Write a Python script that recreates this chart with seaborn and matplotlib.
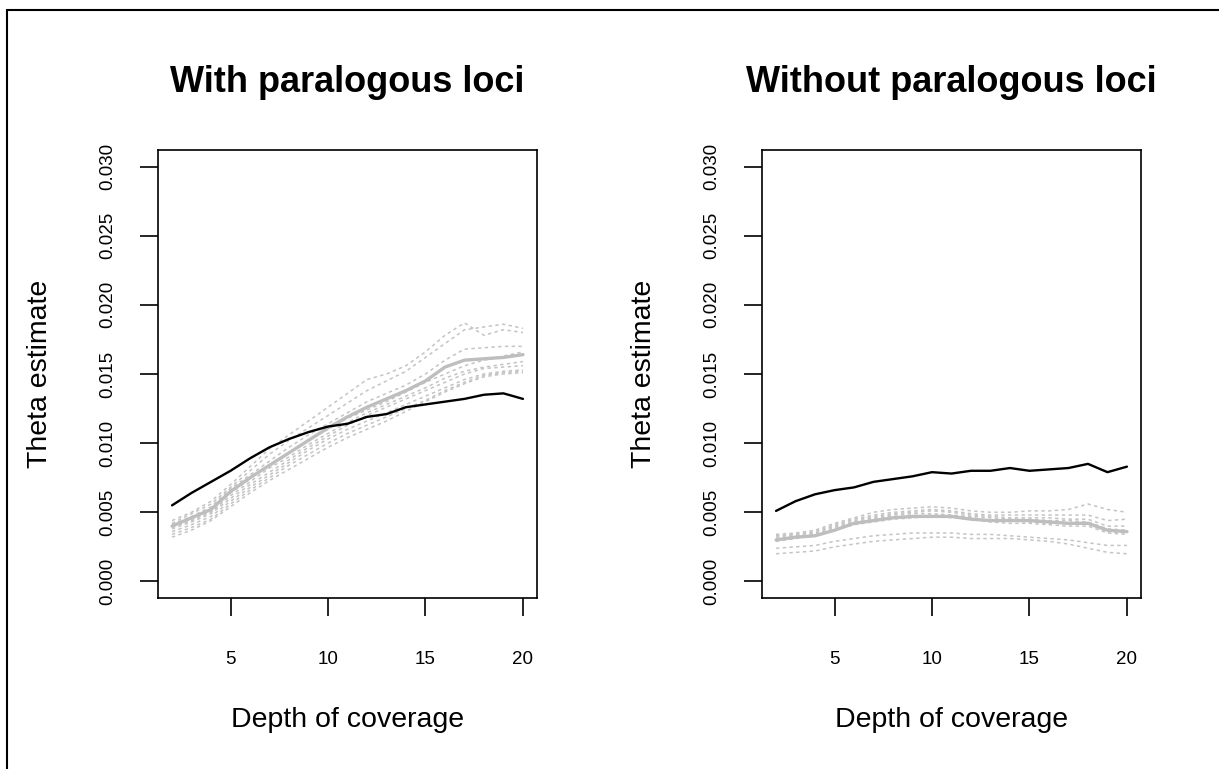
import matplotlib
matplotlib.use("Agg")
import matplotlib.pyplot as plt
import seaborn as sns
import pandas as pd
from matplotlib.lines import Line2D

depth = list(range(2, 21))

# ---- With paralogous loci ----
with_black = [0.0055, 0.0064, 0.0072, 0.0080, 0.0089, 0.0097, 0.0103, 0.0108, 0.0112, 0.0114,
              0.0119, 0.0121, 0.0126, 0.0128, 0.0130, 0.0132, 0.0135, 0.0136, 0.0132]
with_gray = [0.0040, 0.0046, 0.0052, 0.0065, 0.0075, 0.0084, 0.0093, 0.0102, 0.0111, 0.0119,
             0.0126, 0.0132, 0.0138, 0.0145, 0.0155, 0.0160, 0.0161, 0.0162, 0.0164]
with_reps = [
    [0.0044, 0.0050, 0.0058, 0.0070, 0.0083, 0.0096, 0.0106, 0.0116, 0.0126, 0.0136,
     0.0146, 0.0150, 0.0156, 0.0166, 0.0178, 0.0187, 0.0178, 0.0182, 0.0180],
    [0.0042, 0.0049, 0.0056, 0.0068, 0.0080, 0.0092, 0.0102, 0.0111, 0.0120, 0.0129,
     0.0138, 0.0145, 0.0152, 0.0162, 0.0172, 0.0182, 0.0184, 0.0186, 0.0183],
    [0.0041, 0.0047, 0.0054, 0.0067, 0.0077, 0.0087, 0.0097, 0.0106, 0.0114, 0.0122,
     0.0130, 0.0136, 0.0142, 0.0150, 0.0160, 0.0168, 0.0169, 0.0170, 0.0170],
    [0.0040, 0.0045, 0.0051, 0.0064, 0.0074, 0.0084, 0.0093, 0.0102, 0.0110, 0.0118,
     0.0124, 0.0130, 0.0137, 0.0144, 0.0150, 0.0156, 0.0160, 0.0163, 0.0166],
    [0.0039, 0.0044, 0.0050, 0.0062, 0.0072, 0.0082, 0.0090, 0.0099, 0.0107, 0.0115,
     0.0122, 0.0128, 0.0134, 0.0140, 0.0147, 0.0152, 0.0155, 0.0157, 0.0159],
    [0.0038, 0.0043, 0.0049, 0.0060, 0.0070, 0.0079, 0.0088, 0.0097, 0.0105, 0.0113,
     0.0120, 0.0126, 0.0132, 0.0138, 0.0144, 0.0150, 0.0154, 0.0155, 0.0156],
    [0.0036, 0.0041, 0.0047, 0.0058, 0.0068, 0.0077, 0.0086, 0.0095, 0.0103, 0.0110,
     0.0116, 0.0122, 0.0128, 0.0134, 0.0140, 0.0146, 0.0150, 0.0152, 0.0153],
    [0.0034, 0.0039, 0.0045, 0.0056, 0.0066, 0.0075, 0.0084, 0.0092, 0.0100, 0.0107,
     0.0113, 0.0119, 0.0125, 0.0131, 0.0138, 0.0144, 0.0149, 0.0151, 0.0152],
    [0.0032, 0.0037, 0.0044, 0.0054, 0.0064, 0.0073, 0.0081, 0.0089, 0.0097, 0.0104,
     0.0110, 0.0116, 0.0123, 0.0130, 0.0137, 0.0143, 0.0148, 0.0150, 0.0151],
]

# ---- Without paralogous loci ----
without_black = [0.0051, 0.0058, 0.0063, 0.0066, 0.0068, 0.0072, 0.0074, 0.0076, 0.0079, 0.0078,
                 0.0080, 0.0080, 0.0082, 0.0080, 0.0081, 0.0082, 0.0085, 0.0079, 0.0083]
without_gray = [0.0030, 0.0032, 0.0033, 0.0037, 0.0042, 0.0044, 0.0046, 0.0047, 0.0047, 0.0047,
                0.0045, 0.0044, 0.0044, 0.0044, 0.0043, 0.0042, 0.0042, 0.0037, 0.0036]
without_reps = [
    [0.0034, 0.0035, 0.0037, 0.0042, 0.0046, 0.0050, 0.0052, 0.0053, 0.0054, 0.0053,
     0.0051, 0.0050, 0.0050, 0.0051, 0.0051, 0.0052, 0.0056, 0.0052, 0.0050],
    [0.0033, 0.0034, 0.0036, 0.0041, 0.0045, 0.0048, 0.0050, 0.0051, 0.0052, 0.0051,
     0.0049, 0.0048, 0.0048, 0.0048, 0.0048, 0.0048, 0.0048, 0.0044, 0.0045],
    [0.0032, 0.0034, 0.0035, 0.0040, 0.0044, 0.0047, 0.0049, 0.0050, 0.0051, 0.0050,
     0.0048, 0.0047, 0.0046, 0.0046, 0.0046, 0.0045, 0.0045, 0.0040, 0.0040],
    [0.0031, 0.0033, 0.0034, 0.0039, 0.0043, 0.0046, 0.0048, 0.0049, 0.0049, 0.0048,
     0.0047, 0.0046, 0.0045, 0.0045, 0.0044, 0.0044, 0.0043, 0.0038, 0.0037],
    [0.0030, 0.0032, 0.0034, 0.0038, 0.0042, 0.0045, 0.0047, 0.0047, 0.0048, 0.0047,
     0.0046, 0.0044, 0.0044, 0.0043, 0.0042, 0.0042, 0.0042, 0.0036, 0.0035],
    [0.0029, 0.0031, 0.0033, 0.0037, 0.0041, 0.0043, 0.0045, 0.0046, 0.0047, 0.0046,
     0.0045, 0.0043, 0.0042, 0.0042, 0.0041, 0.0040, 0.0040, 0.0035, 0.0034],
    [0.0024, 0.0025, 0.0026, 0.0029, 0.0031, 0.0033, 0.0034, 0.0035, 0.0035, 0.0035,
     0.0034, 0.0034, 0.0033, 0.0032, 0.0031, 0.0030, 0.0028, 0.0026, 0.0026],
    [0.0020, 0.0021, 0.0022, 0.0025, 0.0027, 0.0029, 0.0030, 0.0031, 0.0032, 0.0032,
     0.0031, 0.0031, 0.0031, 0.0030, 0.0029, 0.0027, 0.0024, 0.0021, 0.0020],
]

titles = ["With paralogous loci", "Without paralogous loci"]
x_label = "Depth of coverage"
y_label = "Theta estimate"
y_ticks = [0.000, 0.005, 0.010, 0.015, 0.020, 0.025, 0.030]
x_ticks = [5, 10, 15, 20]

sns.set_theme(style="white")
plt.rcParams["font.family"] = ["Liberation Sans", "DejaVu Sans"]

fig = plt.figure(figsize=(12.19, 7.69), dpi=100)
ax_w, ax_h, ax_b = 379 / 1219, 448 / 769, 1 - 598 / 769
axes = [fig.add_axes([158 / 1219, ax_b, ax_w, ax_h]),
        fig.add_axes([762 / 1219, ax_b, ax_w, ax_h])]

panels = [(with_black, with_gray, with_reps), (without_black, without_gray, without_reps)]

for ax, title, (blk, gry, reps) in zip(axes, titles, panels):
    for rep in reps:
        df = pd.DataFrame({"depth": depth, "theta": rep})
        sns.lineplot(data=df, x="depth", y="theta", ax=ax, color="#c4c4c4",
                     linewidth=1.1, linestyle=(0, (2.2, 2.2)), zorder=2)
    dfg = pd.DataFrame({"depth": depth, "theta": gry})
    sns.lineplot(data=dfg, x="depth", y="theta", ax=ax, color="#bebebe",
                 linewidth=2.4, zorder=3)
    dfb = pd.DataFrame({"depth": depth, "theta": blk})
    sns.lineplot(data=dfb, x="depth", y="theta", ax=ax, color="black",
                 linewidth=1.7, zorder=4)

    ax.set_xlim(1.28, 20.72)
    ax.set_ylim(-0.0012, 0.0312)
    ax.set_xticks(x_ticks)
    ax.set_xticklabels([str(t) for t in x_ticks], fontsize=13.5)
    ax.set_yticks(y_ticks)
    ax.set_yticklabels([f"{t:.3f}" for t in y_ticks], fontsize=13.5,
                       rotation=90, va="center")
    ax.tick_params(axis="both", direction="out", length=13, width=1.2,
                   color="black", bottom=True, left=True, labelcolor="black")
    ax.tick_params(axis="x", pad=25)
    ax.tick_params(axis="y", pad=17)
    for s in ax.spines.values():
        s.set_visible(True)
        s.set_color("black")
        s.set_linewidth(1.2)
    ax.set_xlabel(x_label, fontsize=20.5, labelpad=28, color="black")
    ax.set_ylabel(y_label, fontsize=20.5, labelpad=33, color="black")
    ax.set_title(title, fontsize=26, fontweight="bold", pad=42, color="black")
    ax.set_facecolor("white")

# outer frame (top and left border as in the reference)
fig.add_artist(Line2D([7 / 1219, 7 / 1219], [0, 1 - 10 / 769], transform=fig.transFigure,
                      color="black", linewidth=1.5))
fig.add_artist(Line2D([7 / 1219, 1], [1 - 10 / 769, 1 - 10 / 769], transform=fig.transFigure,
                      color="black", linewidth=1.5))

fig.savefig("out.png", dpi=100, facecolor="white")
